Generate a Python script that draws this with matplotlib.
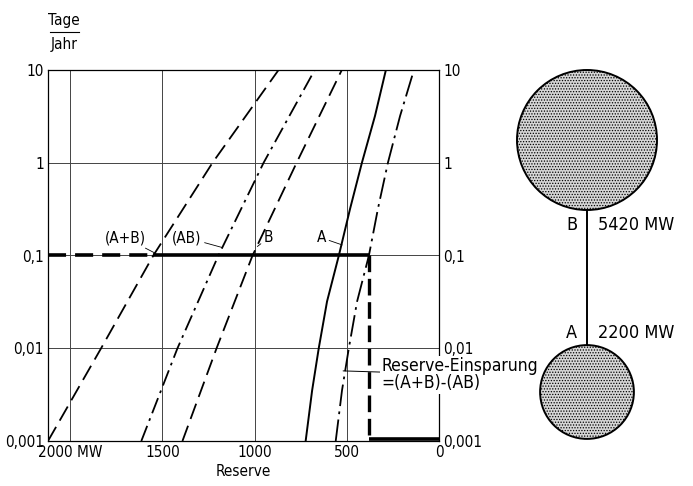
import matplotlib.pyplot as plt
from matplotlib.patches import Circle
import numpy as np

plt.rcParams['font.family'] = ['DejaVu Sans']
plt.rcParams['font.stretch'] = 'condensed'
plt.rcParams['hatch.color'] = '#666666'
plt.rcParams['hatch.linewidth'] = 0.6

# outage frequency levels (Tage/Jahr) and reserve read at each level (MW)
levels = [0.001, 0.01, 0.1, 1, 10]
res_a_plus_b = [2120, 1832, 1549, 1228, 870]
res_ab = [1614, 1418, 1196, 951, 674]
res_b = [1391, 1206, 1011, 772, 527]

# the two steep curves were read at half decades too
levels_fine = [0.001, 0.0035, 0.01, 0.032, 0.1, 0.32, 1, 3.2, 10]
res_a = [723, 688, 652, 607, 543, 482, 418, 347, 288]
res_a_alt = [560, 526, 489, 444, 380, 331, 277, 211, 136]

# thick reserve line at 0.1 days/year
target = 0.1
res_combined = 1549
res_coupled = 380

yticks = [0.001, 0.01, 0.1, 1, 10]
ytick_labels = ['0,001', '0,01', '0,1', '1', '10']
xticks = [2000, 1500, 1000, 500, 0]
xtick_labels = ['2000 MW', '1500', '1000', '500', '0']

cap_b = 5420
cap_a = 2200

fig = plt.figure(figsize=(6.93, 4.86), dpi=100)
ax = fig.add_axes([48 / 693, 1 - 441 / 486, 391 / 693, 371 / 486])
ax.set_yscale('log')
ax.set_xlim(2120, 0)
ax.set_ylim(0.001, 10)

for v in [2000, 1500, 1000, 500]:
    ax.axvline(v, color='#444444', lw=0.7, zorder=1)
for v in [0.01, 0.1, 1]:
    ax.axhline(v, color='#444444', lw=0.7, zorder=1)

ax.plot(res_a_plus_b, levels, color='k', lw=1.3, dashes=(9, 4))
ax.plot(res_ab, levels, color='k', lw=1.3, dashes=(9, 3, 1.5, 3))
ax.plot(res_b, levels, color='k', lw=1.3, dashes=(9, 4))
ax.plot(res_a, levels_fine, color='k', lw=1.4)
ax.plot(res_a_alt, levels_fine, color='k', lw=1.3, dashes=(12, 3, 1.5, 3))

ax.plot([2120, res_combined], [target, target], color='k', lw=2.6, dashes=(5, 2.5))
ax.plot([res_combined, res_coupled], [target, target], color='k', lw=2.6, solid_capstyle='butt')
ax.plot([res_coupled, res_coupled], [target, 0.001], color='k', lw=2.4, dashes=(5, 2))
ax.plot([res_coupled, 0], [0.00106, 0.00106], color='k', lw=2.6, solid_capstyle='butt')

ax.set_yticks(yticks)
ax.set_yticklabels(ytick_labels)
ax.minorticks_off()
ax.set_xticks(xticks)
ax.set_xticklabels(xtick_labels)
ax.tick_params(length=0, labelsize=11, pad=3, right=True, labelright=True)
for s in ax.spines.values():
    s.set_linewidth(0.9)
ax.set_xlabel('Reserve', fontsize=11, labelpad=3)

# curve labels with leader lines
lab = dict(fontsize=11, ha='center', va='center')
lead = dict(arrowstyle='-', lw=0.6, shrinkA=0, shrinkB=0)
ax.annotate('(A+B)', xy=(1535, 0.105), xytext=(1700, 0.155), **lab, arrowprops=lead)
ax.annotate('(AB)', xy=(1176, 0.122), xytext=(1366, 0.155), **lab, arrowprops=lead)
ax.annotate('B', xy=(985, 0.125), xytext=(925, 0.155), **lab, arrowprops=lead)
ax.annotate('A', xy=(525, 0.13), xytext=(636, 0.155), **lab, arrowprops=lead)
ax.annotate('Reserve-Einsparung\n=(A+B)-(AB)', xy=(520, 0.0057), xytext=(310, 0.0052),
            fontsize=12.5, ha='left', va='center', linespacing=0.95,
            bbox=dict(fc='white', ec='none', pad=1),
            arrowprops=dict(arrowstyle='-', lw=0.7, shrinkA=0, shrinkB=0))

# y unit as fraction
fig.text(64 / 693, 1 - 20 / 486, 'Tage', fontsize=11, ha='center', va='center')
fig.text(64 / 693, 1 - 44 / 486, 'Jahr', fontsize=11, ha='center', va='center')
fig.add_artist(plt.Line2D([50 / 693, 79 / 693], [1 - 32 / 486, 1 - 32 / 486], color='k', lw=0.8))

# network diagram
ax2 = fig.add_axes([470 / 693, 0, 223 / 693, 1])
ax2.set_xlim(470, 693)
ax2.set_ylim(486, 0)
ax2.set_aspect('equal', adjustable='datalim')
ax2.axis('off')
rb = 70
ra = rb * 0.67
cx = 587
yb, ya = 140, 392
ax2.plot([cx, cx], [yb + rb, ya - ra], color='k', lw=1.4)
for yc, r in [(yb, rb), (ya, ra)]:
    ax2.add_patch(Circle((cx, yc), r, fc='#d6d6d6', ec='k', lw=1.4, hatch='......'))
ax2.text(cx - 10, 225, 'B', fontsize=13, ha='right', va='center')
ax2.text(cx + 11, 225, f'{cap_b} MW', fontsize=13, ha='left', va='center')
ax2.text(cx - 10, 333, 'A', fontsize=13, ha='right', va='center')
ax2.text(cx + 11, 333, f'{cap_a} MW', fontsize=13, ha='left', va='center')

fig.savefig('out.png', dpi=100)
